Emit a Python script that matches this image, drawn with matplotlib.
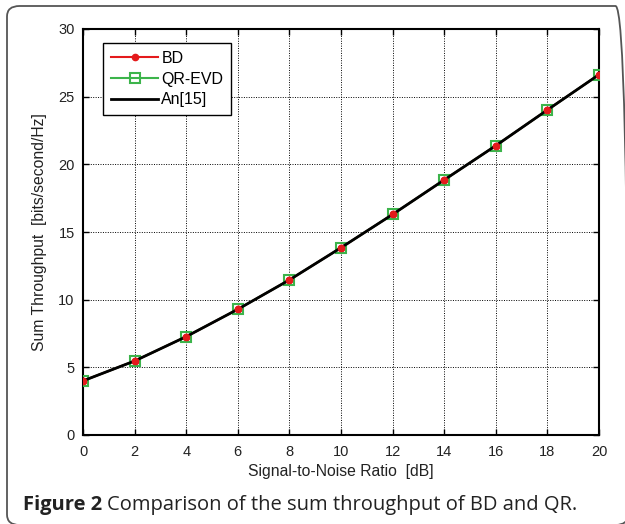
import matplotlib
matplotlib.use("Agg")
import matplotlib.pyplot as plt
from matplotlib.patches import FancyBboxPatch

snr = [0, 2, 4, 6, 8, 10, 12, 14, 16, 18, 20]
bd = [4.0, 5.47, 7.27, 9.29, 11.46, 13.84, 16.3, 18.85, 21.38, 24.02, 26.63]
qr_evd = [4.0, 5.47, 7.27, 9.29, 11.46, 13.84, 16.3, 18.85, 21.38, 24.02, 26.63]
an15 = [4.0, 5.47, 7.27, 9.29, 11.46, 13.84, 16.3, 18.85, 21.38, 24.02, 26.63]
xticks = [0, 2, 4, 6, 8, 10, 12, 14, 16, 18, 20]
yticks = [0, 5, 10, 15, 20, 25, 30]

lab_font = "Liberation Sans"

W, H = 625, 524
fig = plt.figure(figsize=(W / 100, H / 100), dpi=100)
fig.patch.set_facecolor("white")

# outer rounded frame
frame = FancyBboxPatch((7 / W, 1 - 525 / H), (628 - 7) / W, (525 - 6) / H,
                       boxstyle="round,pad=0,rounding_size=0.02",
                       transform=fig.transFigure, facecolor="none",
                       edgecolor="#555555", linewidth=1.3, clip_on=False)
fig.patches.append(frame)

ax = fig.add_axes([83 / W, 1 - 435 / H, (599 - 83) / W, (435 - 29) / H])
ax.plot(snr, bd, color="#e41a1c", marker="o", markersize=4.5, linewidth=1.5, label="BD", zorder=3)
ax.plot(snr, qr_evd, color="#3cb44b", marker="s", markersize=7, markerfacecolor="none",
        markeredgewidth=1.5, linewidth=1.5, label="QR-EVD", zorder=4)
ax.plot(snr, an15, color="black", linewidth=2, label="An[15]", zorder=5)
# redraw red markers on top
ax.plot(snr, bd, linestyle="none", color="#e41a1c", marker="o", markersize=4.5, zorder=6)

ax.set_xlim(0, 20)
ax.set_ylim(0, 30)
ax.set_xticks(xticks)
ax.set_yticks(yticks)
ax.grid(True, color="black", linestyle=(0, (1, 1.5)), linewidth=0.7)
ax.tick_params(direction="in", length=4, width=1, labelsize=10.5, colors="black",
               top=True, right=True)
ax.tick_params(axis="x", pad=7)
ax.tick_params(axis="y", pad=6)
for lab in ax.get_xticklabels() + ax.get_yticklabels():
    lab.set_fontfamily(lab_font)
    lab.set_color("#222222")
for s in ax.spines.values():
    s.set_linewidth(1.5)
ax.set_xlabel("Signal-to-Noise Ratio  [dB]", fontfamily=lab_font, fontsize=11.3,
              color="#222222", labelpad=4)
ax.set_ylabel("Sum Throughput  [bits/second/Hz]", fontfamily=lab_font, fontsize=11.3,
              color="#222222", labelpad=8)

leg = ax.legend(loc="upper left", bbox_to_anchor=((103 - 83) / (599 - 83), 1 - (43 - 29) / (435 - 29)),
                borderaxespad=0, fancybox=False, framealpha=1, edgecolor="black",
                handlelength=2.95, handletextpad=0.2, borderpad=0.5, labelspacing=0.35,
                prop={"family": lab_font, "size": 11.5})
leg.get_frame().set_linewidth(1.0)

# caption
cap_y = 1 - 510 / H
fig.canvas.draw()
t1 = fig.text(23 / W, cap_y, "Figure 2", fontfamily="Open Sans", fontweight="bold",
              fontsize=14.5, va="baseline", ha="left", color="#222222")
fig.canvas.draw()
bb = t1.get_window_extent()
fig.text((bb.x1 + 5) / W, cap_y, "Comparison of the sum throughput of BD and QR.",
         fontfamily="Open Sans", fontsize=14.5, va="baseline", ha="left", color="#222222")

fig.savefig("out.png", dpi=100)
